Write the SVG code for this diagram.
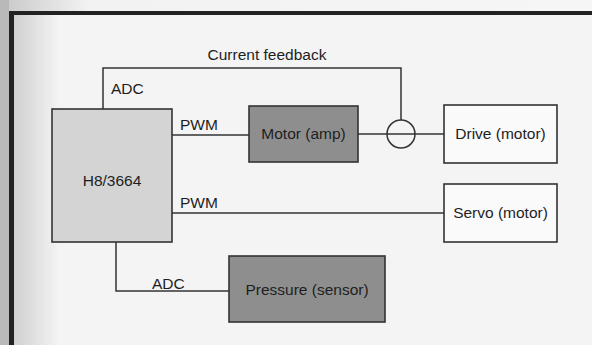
<svg xmlns="http://www.w3.org/2000/svg" width="592" height="345" viewBox="0 0 592 345">
  <defs>
    <linearGradient id="leftShade" x1="0" y1="0" x2="1" y2="0">
      <stop offset="0" stop-color="#d0d0d0"/>
      <stop offset="1" stop-color="#f4f4f4"/>
    </linearGradient>
    <linearGradient id="topShade" x1="0" y1="0" x2="1" y2="0">
      <stop offset="0" stop-color="#c8c8c8"/>
      <stop offset="0.15" stop-color="#f2f2f2"/>
      <stop offset="1" stop-color="#f6f6f6"/>
    </linearGradient>
    <style>
      .box { stroke: #333; stroke-width: 1.6; }
      .light { fill: #d4d4d4; }
      .dark { fill: #8e8e8e; }
      .white { fill: #fafafa; }
      .wire { fill: none; stroke: #333; stroke-width: 1.5; }
      text { font-family: "Liberation Sans", Arial, sans-serif; font-size: 15.5px; fill: #1e1e1e; }
      .c { text-anchor: middle; }
    </style>
  </defs>

  <!-- page / frame -->
  <rect x="0" y="0" width="592" height="345" fill="#f4f4f4"/>
  <rect x="0" y="0" width="592" height="11" fill="url(#topShade)"/>
  <rect x="0" y="0" width="9" height="345" fill="#b9b9b9"/>
  <rect x="14" y="15" width="45" height="330" fill="url(#leftShade)"/>
  <rect x="9" y="11" width="583" height="4" fill="#222"/>
  <rect x="9" y="11" width="5" height="334" fill="#222"/>

  <!-- connectors -->
  <g id="connectors">
    <polyline class="wire" points="103,109 103,68 401,68 401,120"/>
    <line class="wire" x1="172" y1="135" x2="249" y2="135"/>
    <line class="wire" x1="358" y1="134" x2="444" y2="134"/>
    <line class="wire" x1="172" y1="213" x2="444" y2="213"/>
    <polyline class="wire" points="116,242 116,291 229,291"/>
    <circle class="wire" cx="401" cy="134" r="14"/>
  </g>

  <!-- labels -->
  <g id="labels">
    <text x="267" y="60" class="c">Current feedback</text>
    <text x="111" y="94">ADC</text>
    <text x="180" y="130">PWM</text>
    <text x="180" y="208">PWM</text>
    <text x="152" y="289">ADC</text>
  </g>

  <g id="h8">
    <rect class="box light" x="52" y="109" width="120" height="133"/>
    <text x="112" y="186" class="c">H8/3664</text>
  </g>

  <g id="motor-amp">
    <rect class="box dark" x="249" y="106" width="109" height="56"/>
    <text x="303.5" y="139" class="c">Motor (amp)</text>
  </g>

  <g id="drive-motor">
    <rect class="box white" x="444" y="105" width="113" height="58"/>
    <text x="500.5" y="139" class="c">Drive (motor)</text>
  </g>

  <g id="servo-motor">
    <rect class="box white" x="444" y="184" width="113" height="58"/>
    <text x="500.5" y="218" class="c">Servo (motor)</text>
  </g>

  <g id="pressure-sensor">
    <rect class="box dark" x="229" y="256" width="156" height="66"/>
    <text x="307" y="295" class="c">Pressure (sensor)</text>
  </g>
</svg>
